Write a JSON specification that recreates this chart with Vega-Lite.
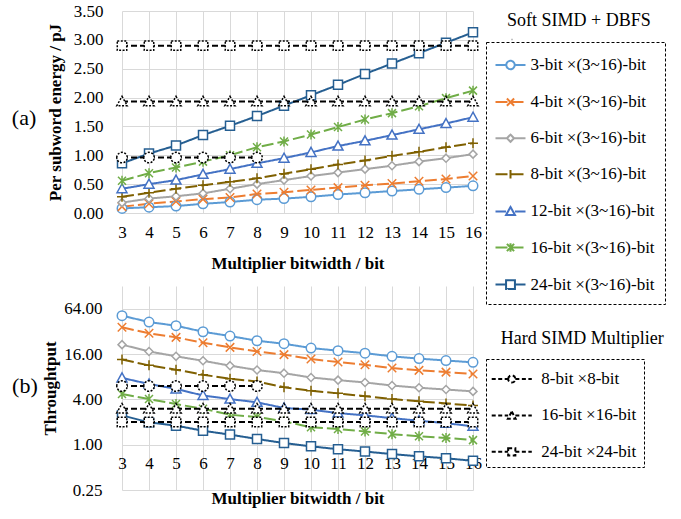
{
  "$schema": "https://vega.github.io/schema/vega-lite/v6.json",
  "background": "white",
  "padding": {"left": 11, "top": 2, "right": 6, "bottom": 6},
  "bounds": "flush",
  "spacing": 73,
  "datasets": {
    "soft": [
      {"x":3,"s":"3-bit ×(3~16)-bit","e":0.08,"t":51.7},{"x":4,"s":"3-bit ×(3~16)-bit","e":0.10,"t":42.5},{"x":5,"s":"3-bit ×(3~16)-bit","e":0.12,"t":38.0},{"x":6,"s":"3-bit ×(3~16)-bit","e":0.16,"t":31.6},{"x":7,"s":"3-bit ×(3~16)-bit","e":0.19,"t":27.7},{"x":8,"s":"3-bit ×(3~16)-bit","e":0.23,"t":24.0},{"x":9,"s":"3-bit ×(3~16)-bit","e":0.25,"t":21.9},{"x":10,"s":"3-bit ×(3~16)-bit","e":0.28,"t":19.2},{"x":11,"s":"3-bit ×(3~16)-bit","e":0.32,"t":17.7},{"x":12,"s":"3-bit ×(3~16)-bit","e":0.35,"t":16.4},{"x":13,"s":"3-bit ×(3~16)-bit","e":0.38,"t":14.9},{"x":14,"s":"3-bit ×(3~16)-bit","e":0.41,"t":13.9},{"x":15,"s":"3-bit ×(3~16)-bit","e":0.44,"t":13.1},{"x":16,"s":"3-bit ×(3~16)-bit","e":0.47,"t":12.4},
      {"x":3,"s":"4-bit ×(3~16)-bit","e":0.11,"t":36.2},{"x":4,"s":"4-bit ×(3~16)-bit","e":0.16,"t":30.1},{"x":5,"s":"4-bit ×(3~16)-bit","e":0.20,"t":26.6},{"x":6,"s":"4-bit ×(3~16)-bit","e":0.24,"t":22.6},{"x":7,"s":"4-bit ×(3~16)-bit","e":0.27,"t":19.6},{"x":8,"s":"4-bit ×(3~16)-bit","e":0.33,"t":17.3},{"x":9,"s":"4-bit ×(3~16)-bit","e":0.36,"t":15.7},{"x":10,"s":"4-bit ×(3~16)-bit","e":0.40,"t":13.7},{"x":11,"s":"4-bit ×(3~16)-bit","e":0.44,"t":12.5},{"x":12,"s":"4-bit ×(3~16)-bit","e":0.48,"t":11.5},{"x":13,"s":"4-bit ×(3~16)-bit","e":0.51,"t":10.4},{"x":14,"s":"4-bit ×(3~16)-bit","e":0.55,"t":9.7},{"x":15,"s":"4-bit ×(3~16)-bit","e":0.59,"t":9.2},{"x":16,"s":"4-bit ×(3~16)-bit","e":0.64,"t":8.7},
      {"x":3,"s":"6-bit ×(3~16)-bit","e":0.18,"t":21.3},{"x":4,"s":"6-bit ×(3~16)-bit","e":0.25,"t":17.3},{"x":5,"s":"6-bit ×(3~16)-bit","e":0.29,"t":14.9},{"x":6,"s":"6-bit ×(3~16)-bit","e":0.34,"t":13.0},{"x":7,"s":"6-bit ×(3~16)-bit","e":0.42,"t":11.2},{"x":8,"s":"6-bit ×(3~16)-bit","e":0.50,"t":9.8},{"x":9,"s":"6-bit ×(3~16)-bit","e":0.57,"t":8.9},{"x":10,"s":"6-bit ×(3~16)-bit","e":0.64,"t":7.8},{"x":11,"s":"6-bit ×(3~16)-bit","e":0.70,"t":7.2},{"x":12,"s":"6-bit ×(3~16)-bit","e":0.76,"t":6.7},{"x":13,"s":"6-bit ×(3~16)-bit","e":0.82,"t":6.1},{"x":14,"s":"6-bit ×(3~16)-bit","e":0.89,"t":5.7},{"x":15,"s":"6-bit ×(3~16)-bit","e":0.95,"t":5.4},{"x":16,"s":"6-bit ×(3~16)-bit","e":1.02,"t":5.1},
      {"x":3,"s":"8-bit ×(3~16)-bit","e":0.28,"t":13.5},{"x":4,"s":"8-bit ×(3~16)-bit","e":0.35,"t":11.3},{"x":5,"s":"8-bit ×(3~16)-bit","e":0.42,"t":9.9},{"x":6,"s":"8-bit ×(3~16)-bit","e":0.48,"t":8.5},{"x":7,"s":"8-bit ×(3~16)-bit","e":0.54,"t":7.5},{"x":8,"s":"8-bit ×(3~16)-bit","e":0.60,"t":6.9},{"x":9,"s":"8-bit ×(3~16)-bit","e":0.68,"t":5.8},{"x":10,"s":"8-bit ×(3~16)-bit","e":0.76,"t":5.2},{"x":11,"s":"8-bit ×(3~16)-bit","e":0.84,"t":4.8},{"x":12,"s":"8-bit ×(3~16)-bit","e":0.91,"t":4.4},{"x":13,"s":"8-bit ×(3~16)-bit","e":0.99,"t":4.03},{"x":14,"s":"8-bit ×(3~16)-bit","e":1.06,"t":3.76},{"x":15,"s":"8-bit ×(3~16)-bit","e":1.14,"t":3.53},{"x":16,"s":"8-bit ×(3~16)-bit","e":1.21,"t":3.3},
      {"x":3,"s":"12-bit ×(3~16)-bit","e":0.42,"t":7.7},{"x":4,"s":"12-bit ×(3~16)-bit","e":0.50,"t":6.4},{"x":5,"s":"12-bit ×(3~16)-bit","e":0.57,"t":5.5},{"x":6,"s":"12-bit ×(3~16)-bit","e":0.67,"t":4.5},{"x":7,"s":"12-bit ×(3~16)-bit","e":0.76,"t":4.03},{"x":8,"s":"12-bit ×(3~16)-bit","e":0.86,"t":3.65},{"x":9,"s":"12-bit ×(3~16)-bit","e":0.95,"t":3.07},{"x":10,"s":"12-bit ×(3~16)-bit","e":1.05,"t":2.92},{"x":11,"s":"12-bit ×(3~16)-bit","e":1.16,"t":2.63},{"x":12,"s":"12-bit ×(3~16)-bit","e":1.25,"t":2.45},{"x":13,"s":"12-bit ×(3~16)-bit","e":1.35,"t":2.25},{"x":14,"s":"12-bit ×(3~16)-bit","e":1.45,"t":2.08},{"x":15,"s":"12-bit ×(3~16)-bit","e":1.55,"t":1.93},{"x":16,"s":"12-bit ×(3~16)-bit","e":1.66,"t":1.75},
      {"x":3,"s":"16-bit ×(3~16)-bit","e":0.56,"t":4.7},{"x":4,"s":"16-bit ×(3~16)-bit","e":0.69,"t":4.03},{"x":5,"s":"16-bit ×(3~16)-bit","e":0.79,"t":3.46},{"x":6,"s":"16-bit ×(3~16)-bit","e":0.89,"t":3.0},{"x":7,"s":"16-bit ×(3~16)-bit","e":1.00,"t":2.5},{"x":8,"s":"16-bit ×(3~16)-bit","e":1.14,"t":2.33},{"x":9,"s":"16-bit ×(3~16)-bit","e":1.24,"t":2.04},{"x":10,"s":"16-bit ×(3~16)-bit","e":1.36,"t":1.7},{"x":11,"s":"16-bit ×(3~16)-bit","e":1.49,"t":1.61},{"x":12,"s":"16-bit ×(3~16)-bit","e":1.62,"t":1.5},{"x":13,"s":"16-bit ×(3~16)-bit","e":1.73,"t":1.38},{"x":14,"s":"16-bit ×(3~16)-bit","e":1.85,"t":1.29},{"x":15,"s":"16-bit ×(3~16)-bit","e":1.99,"t":1.23},{"x":16,"s":"16-bit ×(3~16)-bit","e":2.12,"t":1.15},
      {"x":3,"s":"24-bit ×(3~16)-bit","e":0.86,"t":2.45},{"x":4,"s":"24-bit ×(3~16)-bit","e":1.03,"t":1.98},{"x":5,"s":"24-bit ×(3~16)-bit","e":1.17,"t":1.79},{"x":6,"s":"24-bit ×(3~16)-bit","e":1.35,"t":1.53},{"x":7,"s":"24-bit ×(3~16)-bit","e":1.51,"t":1.36},{"x":8,"s":"24-bit ×(3~16)-bit","e":1.68,"t":1.19},{"x":9,"s":"24-bit ×(3~16)-bit","e":1.86,"t":1.05},{"x":10,"s":"24-bit ×(3~16)-bit","e":2.04,"t":0.95},{"x":11,"s":"24-bit ×(3~16)-bit","e":2.22,"t":0.87},{"x":12,"s":"24-bit ×(3~16)-bit","e":2.41,"t":0.81},{"x":13,"s":"24-bit ×(3~16)-bit","e":2.59,"t":0.75},{"x":14,"s":"24-bit ×(3~16)-bit","e":2.77,"t":0.70},{"x":15,"s":"24-bit ×(3~16)-bit","e":2.95,"t":0.66},{"x":16,"s":"24-bit ×(3~16)-bit","e":3.13,"t":0.61}
    ],
    "hard": [
      {"x":3,"h":"8-bit ×8-bit","e":0.96,"t":6.0},{"x":4,"h":"8-bit ×8-bit","e":0.96,"t":6.0},{"x":5,"h":"8-bit ×8-bit","e":0.96,"t":6.0},{"x":6,"h":"8-bit ×8-bit","e":0.96,"t":6.0},{"x":7,"h":"8-bit ×8-bit","e":0.96,"t":6.0},{"x":8,"h":"8-bit ×8-bit","e":0.96,"t":6.0},
      {"x":3,"h":"16-bit ×16-bit","e":1.93,"t":3.0},{"x":4,"h":"16-bit ×16-bit","e":1.93,"t":3.0},{"x":5,"h":"16-bit ×16-bit","e":1.93,"t":3.0},{"x":6,"h":"16-bit ×16-bit","e":1.93,"t":3.0},{"x":7,"h":"16-bit ×16-bit","e":1.93,"t":3.0},{"x":8,"h":"16-bit ×16-bit","e":1.93,"t":3.0},{"x":9,"h":"16-bit ×16-bit","e":1.93,"t":3.0},{"x":10,"h":"16-bit ×16-bit","e":1.93,"t":3.0},{"x":11,"h":"16-bit ×16-bit","e":1.93,"t":3.0},{"x":12,"h":"16-bit ×16-bit","e":1.93,"t":3.0},{"x":13,"h":"16-bit ×16-bit","e":1.93,"t":3.0},{"x":14,"h":"16-bit ×16-bit","e":1.93,"t":3.0},{"x":15,"h":"16-bit ×16-bit","e":1.93,"t":3.0},{"x":16,"h":"16-bit ×16-bit","e":1.93,"t":3.0},
      {"x":3,"h":"24-bit ×24-bit","e":2.90,"t":2.0},{"x":4,"h":"24-bit ×24-bit","e":2.90,"t":2.0},{"x":5,"h":"24-bit ×24-bit","e":2.90,"t":2.0},{"x":6,"h":"24-bit ×24-bit","e":2.90,"t":2.0},{"x":7,"h":"24-bit ×24-bit","e":2.90,"t":2.0},{"x":8,"h":"24-bit ×24-bit","e":2.90,"t":2.0},{"x":9,"h":"24-bit ×24-bit","e":2.90,"t":2.0},{"x":10,"h":"24-bit ×24-bit","e":2.90,"t":2.0},{"x":11,"h":"24-bit ×24-bit","e":2.90,"t":2.0},{"x":12,"h":"24-bit ×24-bit","e":2.90,"t":2.0},{"x":13,"h":"24-bit ×24-bit","e":2.90,"t":2.0},{"x":14,"h":"24-bit ×24-bit","e":2.90,"t":2.0},{"x":15,"h":"24-bit ×24-bit","e":2.90,"t":2.0},{"x":16,"h":"24-bit ×24-bit","e":2.90,"t":2.0}
    ]
  },
  "vconcat": [
    {
      "width": 351,
      "height": 202,
      "title": {"text": "(a)", "orient": "left", "angle": 0, "align": "left", "baseline": "middle", "font": "Liberation Serif", "fontSize": 22, "fontWeight": "normal", "color": "black", "offset": 10, "dy": 6},
      "layer": [
        {
          "data": {"name": "soft"},
          "mark": {"type": "line", "strokeWidth": 2},
          "encoding": {
            "x": {"field": "x", "type": "quantitative", "scale": {"domain": [3, 16], "nice": false, "zero": false},
                  "axis": {"values": [3,4,5,6,7,8,9,10,11,12,13,14,15,16], "tickCount": 30, "format": "d", "grid": true, "labelOverlap": false, "labelFlush": false, "labelPadding": 11, "title": "Multiplier bitwidth / bit", "titlePadding": 15}},
            "y": {"field": "e", "type": "quantitative", "scale": {"domain": [0, 3.5], "nice": false},
                  "axis": {"values": [0,0.5,1,1.5,2,2.5,3,3.5], "tickCount": 30, "format": ".2f", "grid": true, "labelOverlap": false, "labelFlush": false, "labelPadding": 19, "title": "Per subword energy / pJ", "titlePadding": 9}},
            "stroke": {"field": "s", "type": "nominal",
              "scale": {"domain": ["3-bit ×(3~16)-bit","4-bit ×(3~16)-bit","6-bit ×(3~16)-bit","8-bit ×(3~16)-bit","12-bit ×(3~16)-bit","16-bit ×(3~16)-bit","24-bit ×(3~16)-bit"],
                        "range": ["#5B9BD5","#ED7D31","#A5A5A5","#7F6000","#4472C4","#70AD47","#255E91"]},
              "legend": {
                "title": null, "orient": "none", "legendX": 364, "legendY": 31, "padding": 10,
                "strokeColor": "black", "symbolSize": 576, "symbolStrokeWidth": 2, "symbolFillColor": "white", "symbolOffset": 1.5,
                "labelFont": "Liberation Serif", "labelFontSize": 17, "labelColor": "black", "labelOffset": 7, "labelLimit": 300, "rowPadding": 15.1,
                "labelExpr": "datum.label + '\u00a0'",
                "encode": {
                  "legend": {"update": {"strokeDash": {"value": [3, 2]}, "strokeWidth": {"value": 1}}},
                  "symbols": {"update": {
                    "shape": {"signal": "['M-1.25,0H-0.35M0.35,0H1.25M-0.35,0A0.35,0.35 0 1,1 0.35,0A0.35,0.35 0 1,1 -0.35,0Z','M-1.25,0H1.25M-0.3,-0.3L0.3,0.3M-0.3,0.3L0.3,-0.3','M-1.25,0H-0.3M0.3,0H1.25M0,-0.3L0.3,0L0,0.3L-0.3,0Z','M-1.25,0H1.25M0,-0.35V0.35','M-1.25,0H-0.37M0.37,0H1.25M0,-0.37L0.37,0.3L-0.37,0.3Z','M-1.25,0H1.25M-0.3,-0.3L0.3,0.3M-0.3,0.3L0.3,-0.3M0,-0.35V0.35','M-1.25,0H-0.37M0.37,0H1.25M-0.37,-0.37H0.37V0.37H-0.37Z'][datum.index]"},
                    "fill": {"value": "white"}, "strokeWidth": {"value": 2}, "opacity": {"value": 1}}}
                }
              }},
            "strokeDash": {"field": "s", "type": "nominal",
              "scale": {"domain": ["3-bit ×(3~16)-bit","4-bit ×(3~16)-bit","6-bit ×(3~16)-bit","8-bit ×(3~16)-bit","12-bit ×(3~16)-bit","16-bit ×(3~16)-bit","24-bit ×(3~16)-bit"],
                        "range": [[1,0],[12,4],[1,0],[12,4],[1,0],[12,4],[1,0]]},
              "legend": null},
            "opacity": {"field": "s", "type": "nominal",
              "scale": {"domain": ["24-bit ×(3~16)-bit","16-bit ×(3~16)-bit","12-bit ×(3~16)-bit","8-bit ×(3~16)-bit","6-bit ×(3~16)-bit","4-bit ×(3~16)-bit","3-bit ×(3~16)-bit"], "range": [1, 1]},
              "legend": {"title": "Soft SIMD + DBFS", "orient": "none", "legendX": 385, "legendY": 0.5, "padding": 0,
                "titleFont": "Liberation Serif", "titleFontSize": 18, "titleFontWeight": "normal", "titleColor": "black",
                "values": ["3-bit ×(3~16)-bit"], "symbolOpacity": 0, "symbolSize": 1, "labelExpr": "''"}}
          }
        },
        {
          "data": {"name": "soft"},
          "mark": {"type": "point", "filled": true, "fill": "white", "strokeWidth": 1.5, "size": 100, "opacity": 1},
          "encoding": {
            "x": {"field": "x", "type": "quantitative", "scale": {"domain": [3, 16], "nice": false, "zero": false}},
            "y": {"field": "e", "type": "quantitative", "scale": {"domain": [0, 3.5], "nice": false}},
            "stroke": {"field": "s", "type": "nominal", "legend": null},
            "shape": {"field": "s", "type": "nominal",
              "scale": {"domain": ["3-bit ×(3~16)-bit","4-bit ×(3~16)-bit","6-bit ×(3~16)-bit","8-bit ×(3~16)-bit","12-bit ×(3~16)-bit","16-bit ×(3~16)-bit","24-bit ×(3~16)-bit","8-bit ×8-bit","16-bit ×16-bit","24-bit ×24-bit"],
                        "range": ["M-0.95,0A0.95,0.95 0 1,1 0.95,0A0.95,0.95 0 1,1 -0.95,0Z","M-0.85,-0.85L0.85,0.85M-0.85,0.85L0.85,-0.85","M0,-0.8L0.8,0L0,0.8L-0.8,0Z","M-1,0H1M0,-1V1","M0,-1L1,0.8H-1Z","M-0.8,-0.8L0.8,0.8M-0.8,0.8L0.8,-0.8M0,-1V1","M-0.9,-0.9H0.9V0.9H-0.9Z","M-1,0A1,1 0 1,1 1,0A1,1 0 1,1 -1,0Z","M0,-1L1,0.8H-1Z","M-0.9,-0.9H0.9V0.9H-0.9Z"]},
              "legend": null}
          }
        },
        {
          "data": {"name": "hard"},
          "mark": {"type": "line", "stroke": "black", "strokeDash": [6, 3]},
          "encoding": {
            "x": {"field": "x", "type": "quantitative", "scale": {"domain": [3, 16], "nice": false, "zero": false}},
            "y": {"field": "e", "type": "quantitative", "scale": {"domain": [0, 3.5], "nice": false}},
            "strokeWidth": {"field": "h", "type": "nominal",
              "scale": {"domain": ["8-bit ×8-bit","16-bit ×16-bit","24-bit ×24-bit"], "range": [2, 2]},
              "legend": {
                "title": null, "orient": "none", "legendX": 364, "legendY": 348, "padding": 7,
                "strokeColor": "black", "symbolSize": 576, "symbolOffset": 5.75, "symbolFillColor": "white", "symbolStrokeColor": "black",
                "labelFont": "Liberation Serif", "labelFontSize": 17, "labelColor": "black", "labelOffset": 16.5, "labelLimit": 300, "rowPadding": 15.4,
                "labelExpr": "datum.label + '\u00a0\u00a0\u00a0\u00a0\u00a0'",
                "encode": {
                  "legend": {"update": {"strokeDash": {"value": [3, 2]}, "strokeWidth": {"value": 1}}},
                  "symbols": {"update": {
                    "shape": {"signal": "['M-1.67,0H-0.3M0.3,0H1.67M-0.3,0A0.3,0.3 0 1,1 0.3,0A0.3,0.3 0 1,1 -0.3,0Z','M-1.67,0H-0.3M0.3,0H1.67M0,-0.32L0.32,0.28L-0.32,0.28Z','M-1.67,0H-0.3M0.3,0H1.67M-0.3,-0.3H0.3V0.3H-0.3Z'][datum.index]"},
                    "fill": {"value": "white"}, "stroke": {"value": "black"}, "strokeDash": {"value": [4, 2.5]}, "strokeWidth": {"value": 1.5}, "opacity": {"value": 1}}}
                }
              }}
          }
        },
        {
          "data": {"name": "hard"},
          "mark": {"type": "point", "filled": true, "fill": "white", "stroke": "black", "strokeWidth": 1.5, "strokeDash": [2, 1.5], "opacity": 1},
          "encoding": {
            "x": {"field": "x", "type": "quantitative", "scale": {"domain": [3, 16], "nice": false, "zero": false}},
            "y": {"field": "e", "type": "quantitative", "scale": {"domain": [0, 3.5], "nice": false}},
            "shape": {"field": "h", "type": "nominal", "legend": null},
            "size": {"field": "h", "type": "nominal",
              "scale": {"domain": ["24-bit ×24-bit","16-bit ×16-bit","8-bit ×8-bit"], "range": [110, 110]},
              "legend": {"title": "Hard SIMD Multiplier", "orient": "none", "legendX": 378.7, "legendY": 318.5, "padding": 0,
                "titleFont": "Liberation Serif", "titleFontSize": 18, "titleFontWeight": "normal", "titleColor": "black",
                "values": ["8-bit ×8-bit"], "symbolOpacity": 0, "labelExpr": "''"}}
          }
        }
      ]
    },
    {
      "width": 351,
      "height": 204,
      "title": {"text": "(b)", "orient": "left", "angle": 0, "align": "left", "baseline": "middle", "font": "Liberation Serif", "fontSize": 22, "fontWeight": "normal", "color": "black", "offset": 4, "dy": -2},
      "layer": [
        {
          "data": {"name": "soft"},
          "mark": {"type": "line", "strokeWidth": 2},
          "encoding": {
            "x": {"field": "x", "type": "quantitative", "scale": {"domain": [3, 16], "nice": false, "zero": false},
                  "axis": {"values": [3,4,5,6,7,8,9,10,11,12,13,14,15,16], "tickCount": 30, "format": "d", "grid": true, "labelOverlap": false, "labelFlush": false, "offset": -45.3, "labelPadding": 11, "title": "Multiplier bitwidth / bit", "titlePadding": 19}},
            "y": {"field": "t", "type": "quantitative", "scale": {"type": "log", "base": 2, "domain": [0.25, 128], "nice": false},
                  "axis": {"values": [0.25, 1, 4, 16, 64], "tickCount": 30, "format": ".2f", "grid": true, "labelOverlap": false, "labelFlush": false, "labelPadding": 20, "title": "Throughtput", "titlePadding": 4}},
            "stroke": {"field": "s", "type": "nominal",
              "scale": {"domain": ["3-bit ×(3~16)-bit","4-bit ×(3~16)-bit","6-bit ×(3~16)-bit","8-bit ×(3~16)-bit","12-bit ×(3~16)-bit","16-bit ×(3~16)-bit","24-bit ×(3~16)-bit"],
                        "range": ["#5B9BD5","#ED7D31","#A5A5A5","#7F6000","#4472C4","#70AD47","#255E91"]},
              "legend": null},
            "strokeDash": {"field": "s", "type": "nominal",
              "scale": {"domain": ["3-bit ×(3~16)-bit","4-bit ×(3~16)-bit","6-bit ×(3~16)-bit","8-bit ×(3~16)-bit","12-bit ×(3~16)-bit","16-bit ×(3~16)-bit","24-bit ×(3~16)-bit"],
                        "range": [[1,0],[12,4],[1,0],[12,4],[1,0],[12,4],[1,0]]},
              "legend": null}
          }
        },
        {
          "data": {"name": "soft"},
          "mark": {"type": "point", "filled": true, "fill": "white", "strokeWidth": 1.5, "size": 100, "opacity": 1},
          "encoding": {
            "x": {"field": "x", "type": "quantitative", "scale": {"domain": [3, 16], "nice": false, "zero": false}},
            "y": {"field": "t", "type": "quantitative", "scale": {"type": "log", "base": 2, "domain": [0.25, 128], "nice": false}},
            "stroke": {"field": "s", "type": "nominal", "legend": null},
            "shape": {"field": "s", "type": "nominal",
              "scale": {"domain": ["3-bit ×(3~16)-bit","4-bit ×(3~16)-bit","6-bit ×(3~16)-bit","8-bit ×(3~16)-bit","12-bit ×(3~16)-bit","16-bit ×(3~16)-bit","24-bit ×(3~16)-bit","8-bit ×8-bit","16-bit ×16-bit","24-bit ×24-bit"],
                        "range": ["M-0.95,0A0.95,0.95 0 1,1 0.95,0A0.95,0.95 0 1,1 -0.95,0Z","M-0.85,-0.85L0.85,0.85M-0.85,0.85L0.85,-0.85","M0,-0.8L0.8,0L0,0.8L-0.8,0Z","M-1,0H1M0,-1V1","M0,-1L1,0.8H-1Z","M-0.8,-0.8L0.8,0.8M-0.8,0.8L0.8,-0.8M0,-1V1","M-0.9,-0.9H0.9V0.9H-0.9Z","M-1,0A1,1 0 1,1 1,0A1,1 0 1,1 -1,0Z","M0,-1L1,0.8H-1Z","M-0.9,-0.9H0.9V0.9H-0.9Z"]},
              "legend": null}
          }
        },
        {
          "data": {"name": "hard"},
          "mark": {"type": "line", "stroke": "black", "strokeWidth": 2, "strokeDash": [6, 3]},
          "encoding": {
            "x": {"field": "x", "type": "quantitative", "scale": {"domain": [3, 16], "nice": false, "zero": false}},
            "y": {"field": "t", "type": "quantitative", "scale": {"type": "log", "base": 2, "domain": [0.25, 128], "nice": false}},
            "detail": {"field": "h", "type": "nominal"}
          }
        },
        {
          "data": {"name": "hard"},
          "mark": {"type": "point", "filled": true, "fill": "white", "stroke": "black", "strokeWidth": 1.5, "strokeDash": [2, 1.5], "size": 110, "opacity": 1},
          "encoding": {
            "x": {"field": "x", "type": "quantitative", "scale": {"domain": [3, 16], "nice": false, "zero": false}},
            "y": {"field": "t", "type": "quantitative", "scale": {"type": "log", "base": 2, "domain": [0.25, 128], "nice": false}},
            "shape": {"field": "h", "type": "nominal", "legend": null}
          }
        }
      ]
    }
  ],
  "config": {
    "font": "Liberation Serif",
    "view": {"stroke": null},
    "axis": {
      "gridColor": "#D9D9D9", "gridWidth": 1, "domain": false, "ticks": false,
      "labelFont": "Liberation Serif", "labelFontSize": 17, "labelColor": "black",
      "titleFont": "Liberation Serif", "titleFontSize": 17, "titleFontWeight": "bold", "titleColor": "black",
      "labelFlush": false, "labelOverlap": false
    },
    "legend": {"titleFont": "Liberation Serif", "labelFont": "Liberation Serif"}
  }
}
